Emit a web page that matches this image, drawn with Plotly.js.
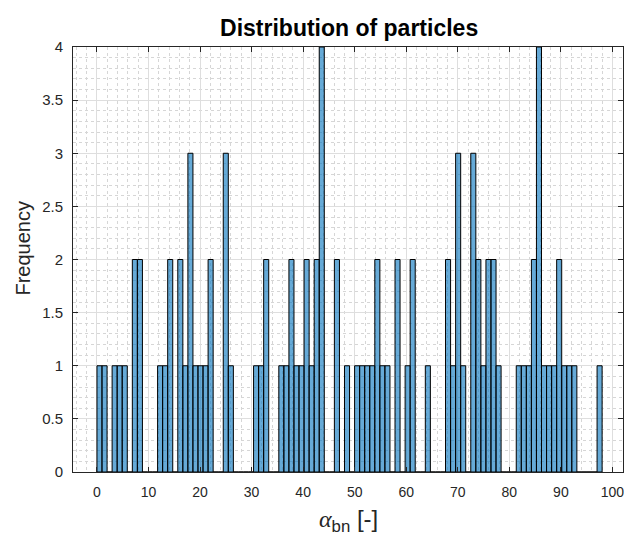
<!DOCTYPE html>
<html>
<head>
<meta charset="utf-8">
<script src="https://cdn.plot.ly/plotly-3.0.1.min.js"></script>
<style>html,body{margin:0;padding:0;background:#fff;}#chart{width:624px;height:538px;}</style>
</head>
<body>
<div id="chart"></div>
<script>
// Histogram bins: 100 bins of equal width starting at 0
var binStart = 0;
var binWidth = 0.98;
var counts = [
  1,1,0,1,1,1,0,2,2,0,
  0,0,1,1,2,0,2,1,3,1,
  1,1,2,0,0,3,1,0,0,0,
  0,1,1,2,0,0,1,1,2,1,
  1,2,1,2,4,0,0,2,0,1,
  0,1,1,1,1,2,1,1,0,2,
  0,1,2,0,0,1,0,0,0,2,
  1,3,1,0,3,2,1,2,2,1,
  0,0,0,1,1,1,2,4,1,1,
  1,2,1,1,1,0,0,0,0,1
];
var xTicks = [0,10,20,30,40,50,60,70,80,90,100];
var yTicks = [0,0.5,1,1.5,2,2.5,3,3.5,4];
var yTickText = ['0','0.5','1','1.5','2','2.5','3','3.5','4'];

var centers = counts.map(function(c, i){ return binStart + binWidth * (i + 0.5); });

var axisCol = '#262626';
var fontFam = 'Liberation Sans, Arial, Helvetica, sans-serif';

var trace = {
  type: 'bar',
  x: centers,
  y: counts,
  width: binWidth,
  marker: {color: 'rgba(0,114,189,0.6)', line: {color: '#000000', width: 1}},
  hoverinfo: 'skip'
};

var layout = {
  width: 624, height: 538,
  margin: {l: 73, r: 1, t: 47, b: 66},
  paper_bgcolor: '#ffffff', plot_bgcolor: '#ffffff',
  showlegend: false,
  bargap: 0,
  font: {family: fontFam, color: axisCol},
  title: {text: '<b>Distribution of particles</b>', font: {size: 23, color: '#000000', family: fontFam},
          x: 0.5595, xanchor: 'center', y: 0.948, yanchor: 'middle'},
  xaxis: {
    range: [-4.65, 102.05],
    tickvals: xTicks, ticktext: xTicks.map(String),
    ticks: 'inside', ticklen: 5, tickcolor: axisCol, tickwidth: 1,
    showline: true, linecolor: axisCol, linewidth: 1, mirror: 'ticks',
    showgrid: true, gridcolor: '#dedede', gridwidth: 1,
    minor: {dtick: 2, showgrid: true, gridcolor: '#d6d6d6', griddash: 'dot', gridwidth: 1, ticks: ''},
    zeroline: false,
    tickfont: {size: 14, color: axisCol},
    ticklabelstandoff: 7,
    ticklabeloverflow: 'allow'
  },
  yaxis: {
    range: [0, 4],
    tickvals: yTicks, ticktext: yTickText,
    ticks: 'inside', ticklen: 5, tickcolor: axisCol, tickwidth: 1,
    showline: true, linecolor: axisCol, linewidth: 1, mirror: 'ticks',
    showgrid: true, gridcolor: '#dedede', gridwidth: 1,
    minor: {dtick: 0.1, showgrid: true, gridcolor: '#d6d6d6', griddash: 'dot', gridwidth: 1, ticks: ''},
    zeroline: false,
    tickfont: {size: 15, color: axisCol},
    ticklabelstandoff: 6
  },
  annotations: [
    {text: 'Frequency', textangle: -90, font: {size: 20, color: axisCol, family: fontFam},
     xref: 'paper', yref: 'paper', x: -0.09, y: 0.527, xanchor: 'center', yanchor: 'middle', showarrow: false},
    {text: '<span style="font-family:Liberation Serif"><i>α</i></span><sub>bn</sub> [-]', font: {size: 24, color: axisCol, family: fontFam},
     xref: 'paper', yref: 'paper', x: 0.5, y: -0.113, xanchor: 'center', yanchor: 'middle', showarrow: false}
  ]
};

Plotly.newPlot('chart', [trace], layout, {displayModeBar: false, staticPlot: true});
</script>
</body>
</html>
